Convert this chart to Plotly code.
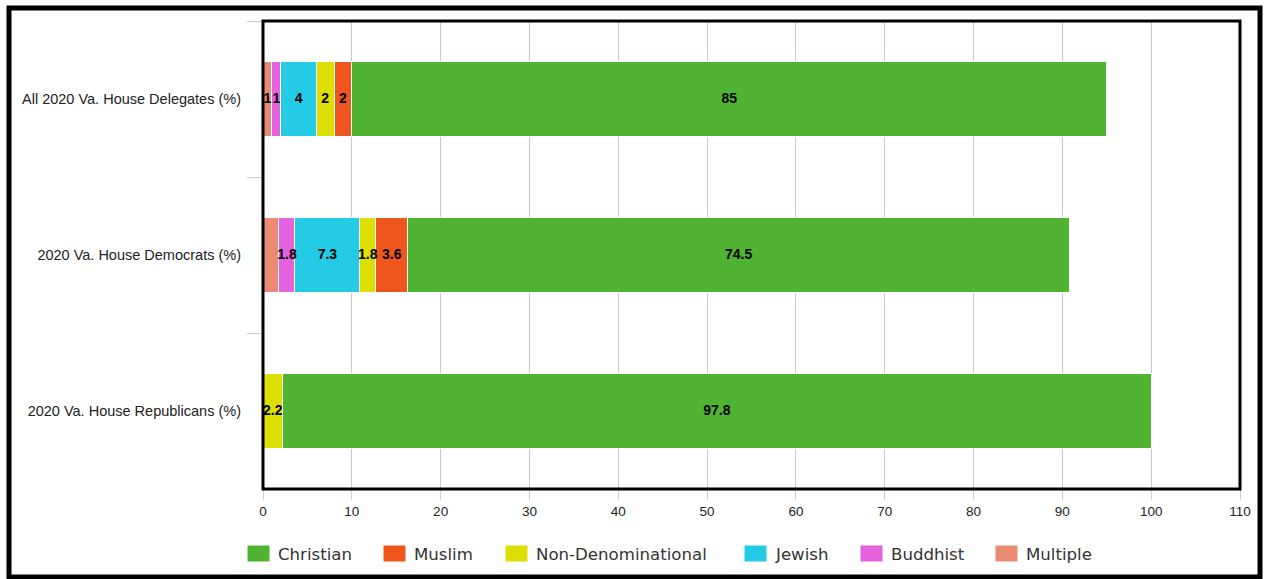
import plotly.graph_objects as go

# Religious affiliation of Virginia House delegates, 2020 (percent)
groups = [
    "All 2020 Va. House Delegates (%)",
    "2020 Va. House Democrats (%)",
    "2020 Va. House Republicans (%)",
]
multiple = [1, 1.8, 0]
buddhist = [1, 1.8, 0]
jewish = [4, 7.3, 0]
non_denominational = [2, 1.8, 2.2]
muslim = [2, 3.6, 0]
christian = [85, 74.5, 97.8]

# stacking order left to right; show_label marks which segments carry a value label
series = [
    ("Multiple", multiple, "#EB8A73", [True, False, False]),
    ("Buddhist", buddhist, "#E463DD", [True, True, False]),
    ("Jewish", jewish, "#24CBE5", [True, True, False]),
    ("Non-Denominational", non_denominational, "#DDDF00", [True, True, True]),
    ("Muslim", muslim, "#EF561D", [True, True, False]),
    ("Christian", christian, "#50B432", [True, True, True]),
]
legend_order = ["Christian", "Muslim", "Non-Denominational", "Jewish", "Buddhist", "Multiple"]

W, H = 1265, 579
L, R, T, B = 263, 1240, 21, 489

fig = go.Figure()
for name, vals, color, _ in series:
    fig.add_trace(go.Bar(
        y=groups, x=vals, name=name, orientation="h",
        marker=dict(color=color, line=dict(color="white", width=1)),
        showlegend=False, hoverinfo="x+name",
    ))

# value labels, centred on each segment and drawn above every bar
lab_x, lab_y, lab_t = [], [], []
base = [0.0] * len(groups)
for name, vals, color, show in series:
    for i, v in enumerate(vals):
        if show[i] and v:
            lab_x.append(base[i] + v / 2)
            lab_y.append(groups[i])
            lab_t.append(f"{v:g}")
        base[i] += v
fig.add_trace(go.Scatter(
    x=lab_x, y=lab_y, text=lab_t, mode="text", textposition="middle center",
    textfont=dict(family="Liberation Sans", size=14, color="black", weight="bold"),
    showlegend=False, hoverinfo="skip", cliponaxis=False,
))

colors = {n: c for n, _, c, _ in series}

def px_x(p):
    return (p - L) / (R - L)

def px_y(p):
    return 1 - (p - T) / (B - T)

shapes = [
    # plot frame
    dict(type="rect", xref="paper", yref="paper", x0=0, x1=1, y0=0, y1=1,
         line=dict(color="black", width=3), layer="above"),
    # outer frame
    dict(type="rect", xref="paper", yref="paper", x0=px_x(9), x1=px_x(1260),
         y0=px_y(577), y1=px_y(8), line=dict(color="black", width=5)),
]
annotations = []
swatch_left = [247, 383, 505, 744, 860, 995]
for name, sx in zip(legend_order, swatch_left):
    shapes.append(dict(type="rect", xref="paper", yref="paper",
                       x0=px_x(sx), x1=px_x(sx + 23), y0=px_y(562), y1=px_y(545),
                       fillcolor=colors[name], line=dict(color="white", width=1)))
    annotations.append(dict(text=name, xref="paper", yref="paper",
                            x=px_x(sx + 29), y=px_y(554), xanchor="left", yanchor="middle",
                            showarrow=False,
                            font=dict(family="DejaVu Sans", size=16.6, color="#333333")))

fig.update_layout(
    width=W, height=H,
    barmode="stack", bargap=0.52,
    margin=dict(l=L, r=W - R, t=T, b=H - B),
    paper_bgcolor="white", plot_bgcolor="white",
    shapes=shapes, annotations=annotations,
    xaxis=dict(range=[0, 110], tickmode="linear", tick0=0, dtick=10,
               showgrid=True, gridcolor="#C8C8C8", gridwidth=1, zeroline=False,
               ticks="outside", ticklen=10, tickcolor="#C0D0E0", tickwidth=1,
               tickfont=dict(family="Liberation Sans", size=13.5, color="#222222"),
               fixedrange=True),
    yaxis=dict(autorange="reversed", ticks="outside", tickson="boundaries",
               ticklen=15, tickcolor="#C0D0E0", tickwidth=1, showgrid=False,
               ticklabelstandoff=21,
               tickfont=dict(family="Liberation Sans", size=14.5, color="#222222"),
               fixedrange=True),
)

fig.write_html("out.html")
